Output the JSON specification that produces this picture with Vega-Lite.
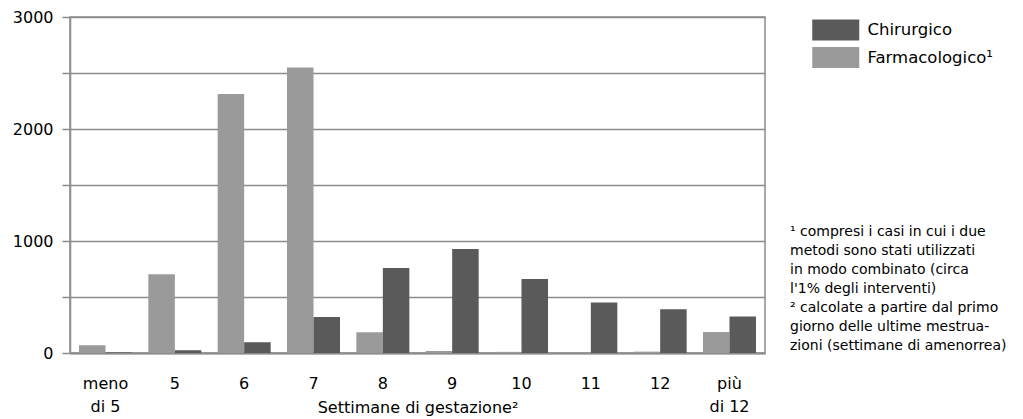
{
  "$schema": "https://vega.github.io/schema/vega-lite/v6.json",
  "width": 695,
  "height": 336,
  "autosize": {"type": "none"},
  "padding": {"left": 70, "top": 17, "right": 258, "bottom": 66},
  "background": "white",
  "config": {
    "font": "DejaVu Sans",
    "view": {"stroke": "#8c8c8c", "strokeWidth": 1.5},
    "axis": {"labelFont": "DejaVu Sans", "titleFont": "DejaVu Sans", "labelColor": "#000000", "titleColor": "#000000"}
  },
  "title": {
    "text": [
      "¹ compresi i casi in cui i due",
      "\u00a0\u00a0metodi sono stati utilizzati",
      "\u00a0\u00a0in modo combinato (circa",
      "\u00a0\u00a0l'1% degli interventi)",
      "² calcolate a partire dal primo",
      "\u00a0\u00a0giorno delle ultime mestrua-",
      "\u00a0\u00a0zioni (settimane di amenorrea)"
    ],
    "orient": "top",
    "anchor": "start",
    "frame": "group",
    "align": "left",
    "baseline": "top",
    "dx": 720,
    "dy": 344,
    "offset": 0,
    "font": "DejaVu Sans",
    "fontSize": 14,
    "fontWeight": "normal",
    "lineHeight": 19,
    "color": "#000000"
  },
  "data": {
    "values": [
      {"settimana": "meno di 5", "metodo": "Farmacologico¹", "n": 69},
      {"settimana": "meno di 5", "metodo": "Chirurgico", "n": 5},
      {"settimana": "5", "metodo": "Farmacologico¹", "n": 703},
      {"settimana": "5", "metodo": "Chirurgico", "n": 24},
      {"settimana": "6", "metodo": "Farmacologico¹", "n": 2313},
      {"settimana": "6", "metodo": "Chirurgico", "n": 96},
      {"settimana": "7", "metodo": "Farmacologico¹", "n": 2549},
      {"settimana": "7", "metodo": "Chirurgico", "n": 322},
      {"settimana": "8", "metodo": "Farmacologico¹", "n": 185},
      {"settimana": "8", "metodo": "Chirurgico", "n": 758},
      {"settimana": "9", "metodo": "Farmacologico¹", "n": 18},
      {"settimana": "9", "metodo": "Chirurgico", "n": 928},
      {"settimana": "10", "metodo": "Farmacologico¹", "n": 10},
      {"settimana": "10", "metodo": "Chirurgico", "n": 660},
      {"settimana": "11", "metodo": "Farmacologico¹", "n": 5},
      {"settimana": "11", "metodo": "Chirurgico", "n": 452},
      {"settimana": "12", "metodo": "Farmacologico¹", "n": 12},
      {"settimana": "12", "metodo": "Chirurgico", "n": 390},
      {"settimana": "più di 12", "metodo": "Farmacologico¹", "n": 187},
      {"settimana": "più di 12", "metodo": "Chirurgico", "n": 327}
    ]
  },
  "mark": {"type": "bar"},
  "encoding": {
    "x": {
      "field": "settimana",
      "type": "nominal",
      "sort": ["meno di 5", "5", "6", "7", "8", "9", "10", "11", "12", "più di 12"],
      "scale": {"paddingInner": 0.2355, "paddingOuter": 0.13},
      "axis": {
        "title": "Settimane di gestazione²",
        "titleFontSize": 16,
        "titleFontWeight": "normal",
        "titleY": 59,
        "titleAlign": "center",
        "titleBaseline": "alphabetic",
        "labelAngle": 0,
        "labelFontSize": 16,
        "labelBaseline": "alphabetic",
        "labelPadding": 35,
        "labelLineHeight": 23,
        "labelExpr": "datum.label == 'meno di 5' ? ['meno', 'di 5'] : datum.label == 'più di 12' ? ['più', 'di 12'] : datum.label",
        "ticks": false,
        "tickSize": 0,
        "domainColor": "#8c8c8c",
        "domainWidth": 2,
        "grid": false
      }
    },
    "xOffset": {
      "field": "metodo",
      "type": "nominal",
      "sort": ["Farmacologico¹", "Chirurgico"],
      "scale": {"paddingInner": 0, "paddingOuter": 0}
    },
    "y": {
      "field": "n",
      "type": "quantitative",
      "scale": {"domain": [0, 3000], "nice": false},
      "axis": {
        "title": null,
        "values": [0, 500, 1000, 1500, 2000, 2500, 3000],
        "labelExpr": "datum.value % 1000 === 0 ? format(datum.value, 'd') : ''",
        "labelFontSize": 16,
        "labelPadding": 9,
        "tickSize": 8,
        "tickColor": "#8c8c8c",
        "tickWidth": 1.5,
        "domainColor": "#8c8c8c",
        "domainWidth": 1.5,
        "gridColor": "#8c8c8c",
        "gridWidth": 1.5
      }
    },
    "color": {
      "field": "metodo",
      "type": "nominal",
      "scale": {"domain": ["Chirurgico", "Farmacologico¹"], "range": ["#5a5a5a", "#9a9a9a"]},
      "legend": {
        "title": null,
        "orient": "none",
        "legendX": 753.75,
        "legendY": 1,
        "symbolType": "M-2,-0.9H2V0.9H-2Z",
        "symbolSize": 552,
        "symbolStrokeWidth": 0,
        "symbolOpacity": 1,
        "labelFontSize": 16.5,
        "labelFont": "DejaVu Sans",
        "labelColor": "#000000",
        "labelOffset": 19.75,
        "rowPadding": 4.5,
        "labelLimit": 300
      }
    }
  }
}
